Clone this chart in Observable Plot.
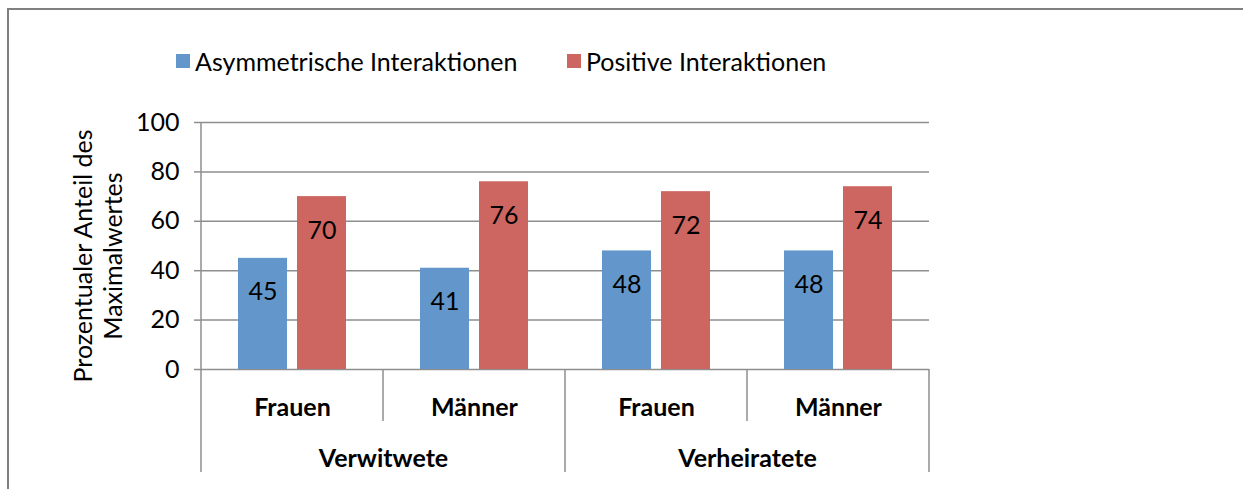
<!DOCTYPE html>
<html>
<head>
<meta charset="utf-8">
<script src="https://cdn.jsdelivr.net/npm/d3@7"></script>
<script src="https://cdn.jsdelivr.net/npm/@observablehq/plot@0.6"></script>
<style>
  html, body { margin: 0; padding: 0; background: #fff; }
  body { width: 1243px; height: 489px; position: relative; overflow: hidden; font-family: Lato, "Open Sans", sans-serif; }
  #frame { position: absolute; left: 7px; top: 8px; right: -10px; bottom: -10px; border-top: 2px solid #808080; border-left: 2px solid #808080; pointer-events: none; }
  #legend { position: relative; height: 100px; width: 1243px; }
  .item { position: absolute; top: 46px; display: flex; align-items: center; font-size: 25px; color: #000; white-space: nowrap; }
  .sw { width: 14px; height: 14px; margin-right: 5px; }
  #chart { position: relative; }
</style>
</head>
<body>
<div id="frame"></div>
<div id="legend"></div>
<div id="chart"></div>
<script>
// ---- data ----
const groups = ["Verwitwete", "Verwitwete", "Verheiratete", "Verheiratete"];
const sexes = ["Frauen", "Männer", "Frauen", "Männer"];
const seriesNames = ["Asymmetrische Interaktionen", "Positive Interaktionen"];
const asymValues = [45, 41, 48, 48];
const posValues = [70, 76, 72, 74];
const yTicks = [0, 20, 40, 60, 80, 100];
const seriesColors = ["#6397cb", "#cd6660"];
const yTitle = "Prozentualer Anteil des\nMaximalwertes";

// ---- derived tables ----
const keys = groups.map((g, i) => g + " " + sexes[i]);
const rows = [];
keys.forEach((k, i) => {
  rows.push({key: k, series: seriesNames[0], value: asymValues[i]});
  rows.push({key: k, series: seriesNames[1], value: posValues[i]});
});
const catRows = keys.map((k, i) => ({key: k, sex: sexes[i], group: groups[i]}));
const groupRows = catRows.filter((d, i) => i === 0 || groups[i] !== groups[i - 1]);

// ---- legend ----
const legend = document.getElementById("legend");
const legendLefts = [176, 567];
seriesNames.forEach((s, i) => {
  const it = document.createElement("div");
  it.className = "item";
  it.style.left = legendLefts[i] + "px";
  const sw = document.createElement("span");
  sw.className = "sw";
  sw.style.background = seriesColors[i];
  const tx = document.createElement("span");
  tx.textContent = s;
  it.appendChild(sw); it.appendChild(tx);
  legend.appendChild(it);
});

// ---- plot ----
const gridColor = "#8e8e8e";
const FS = 25;
const plot = Plot.plot({
  width: 1243,
  height: 389,
  marginTop: 22,
  marginBottom: 120,
  marginLeft: 199,
  marginRight: 313,
  style: {fontFamily: "Lato, 'Open Sans', sans-serif", fontSize: FS + "px", color: "#000", background: "transparent", overflow: "visible"},
  fx: {domain: keys, padding: 0, axis: null, label: null},
  x: {domain: seriesNames, paddingInner: 0.168, paddingOuter: 0.62, axis: null, label: null},
  y: {domain: [0, 100], axis: null, label: null},
  color: {domain: seriesNames, range: seriesColors},
  marks: [
    Plot.gridY(yTicks, {stroke: gridColor, strokeOpacity: 1, strokeWidth: 1.5}),
    Plot.axisY({ticks: yTicks, tickSize: 7, tickPadding: 15, fontSize: FS, stroke: gridColor, strokeWidth: 1.5, fill: "#000", label: null}),
    Plot.barY(rows, {fx: "key", x: "series", y: "value", fill: "series"}),
    Plot.text(rows, {fx: "key", x: "series", y: "value", text: d => String(d.value), dy: 34, fontSize: FS, fill: "#000"}),
    Plot.text(catRows, {fx: "key", text: "sex", frameAnchor: "bottom", lineAnchor: "middle", dy: 38, fontSize: FS, fontWeight: "bold", fill: "#000"}),
    Plot.text(groupRows, {fx: "key", text: "group", frameAnchor: "bottom-right", lineAnchor: "middle", textAnchor: "middle", dy: 89, fontSize: FS, fontWeight: "bold", fill: "#000"}),
    Plot.text([yTitle], {fx: () => keys[0], text: d => d, frameAnchor: "left", textAnchor: "middle", lineAnchor: "middle", rotate: -90, dx: -104, dy: 10, fontSize: FS, lineHeight: 1.2, fill: "#000"})
  ]
});
document.getElementById("chart").appendChild(plot);

// ---- category separators drawn from Plot's own scales ----
const fxS = plot.scale("fx");
const yS = plot.scale("y");
const bw = fxS.bandwidth;
const y0 = yS.apply(0);
const yTop = yS.apply(100);
const sel = d3.select(plot);
const gSep = sel.append("g").attr("stroke", gridColor).attr("stroke-width", 1.5);
keys.forEach((k, i) => {
  const x = fxS.apply(k);
  const groupStart = i === 0 || groups[i] !== groups[i - 1];
  const top = i === 0 ? yTop : y0;
  const len = groupStart ? 103 : 52;
  gSep.append("line").attr("x1", x).attr("x2", x).attr("y1", top).attr("y2", y0 + len);
});
const xEnd = fxS.apply(keys[keys.length - 1]) + bw;
gSep.append("line").attr("x1", xEnd).attr("x2", xEnd).attr("y1", y0).attr("y2", y0 + 103);
</script>
</body>
</html>
